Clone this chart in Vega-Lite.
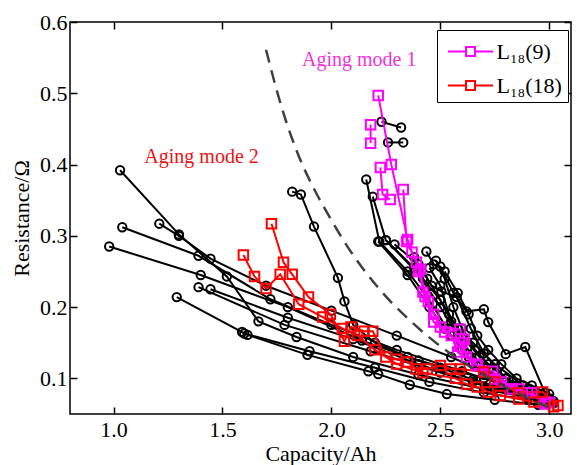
{
"$schema": "https://vega.github.io/schema/vega-lite/v6.json",
"width": 501, "height": 392,
"autosize": {"type": "none"},
"padding": {"left": 70, "top": 22, "right": 6, "bottom": 51},
"background": "white",
"config": {
  "font": "Liberation Serif",
  "view": {"stroke": "black", "strokeWidth": 1.5},
  "axis": {"labelFont": "Liberation Serif", "titleFont": "Liberation Serif", "labelFontSize": 22, "titleFontSize": 22, "titleFontWeight": "normal", "labelColor": "black", "titleColor": "black", "domain": false, "grid": false, "tickColor": "black", "tickSize": -7, "tickWidth": 1.5},
  "legend": {"labelFont": "Liberation Serif", "labelFontSize": 22, "labelColor": "black"}
},
"datasets": {
"dash": [
{"x":1.70,"y":0.561},{"x":1.77,"y":0.482},{"x":1.85,"y":0.412},{"x":1.92,"y":0.366},{"x":2.0,"y":0.322},{"x":2.08,"y":0.282},{"x":2.16,"y":0.248},{"x":2.25,"y":0.215},{"x":2.33,"y":0.19},{"x":2.42,"y":0.165},{"x":2.55,"y":0.134},{"x":2.71,"y":0.103},{"x":2.85,"y":0.08},{"x":3.03,"y":0.055}
],
"notes": [
{"x":2.128,"y":0.547,"t":"Aging mode 1","k":"m"},
{"x":1.404,"y":0.411,"t":"Aging mode 2","k":"r"}
],
"pts": [
{"s":"S1","g":"k","i":0,"x":1.03,"y":0.392},{"s":"S1","g":"k","i":1,"x":1.30,"y":0.302},{"s":"S1","g":"k","i":2,"x":1.52,"y":0.243},{"s":"S1","g":"k","i":3,"x":1.665,"y":0.18},{"s":"S1","g":"k","i":4,"x":1.84,"y":0.158},{"s":"S1","g":"k","i":5,"x":2.1,"y":0.13},{"s":"S1","g":"k","i":6,"x":2.4,"y":0.105},{"s":"S1","g":"k","i":7,"x":2.7,"y":0.085},{"s":"S1","g":"k","i":8,"x":2.9,"y":0.073},{"s":"S1","g":"k","i":9,"x":3.02,"y":0.065},
{"s":"S2","g":"k","i":0,"x":1.04,"y":0.312},{"s":"S2","g":"k","i":1,"x":1.39,"y":0.272},{"s":"S2","g":"k","i":2,"x":1.72,"y":0.211},{"s":"S2","g":"k","i":3,"x":2.0,"y":0.175},{"s":"S2","g":"k","i":4,"x":2.3,"y":0.14},{"s":"S2","g":"k","i":5,"x":2.6,"y":0.11},{"s":"S2","g":"k","i":6,"x":2.8,"y":0.09},{"s":"S2","g":"k","i":7,"x":3.0,"y":0.07},
{"s":"S3","g":"k","i":0,"x":1.21,"y":0.317},{"s":"S3","g":"k","i":1,"x":1.30,"y":0.30},{"s":"S3","g":"k","i":2,"x":1.445,"y":0.268},{"s":"S3","g":"k","i":3,"x":1.7,"y":0.23},{"s":"S3","g":"k","i":4,"x":2.0,"y":0.195},{"s":"S3","g":"k","i":5,"x":2.3,"y":0.16},{"s":"S3","g":"k","i":6,"x":2.55,"y":0.13},{"s":"S3","g":"k","i":7,"x":2.8,"y":0.095},{"s":"S3","g":"k","i":8,"x":3.0,"y":0.072},
{"s":"S4","g":"k","i":0,"x":0.98,"y":0.285},{"s":"S4","g":"k","i":1,"x":1.4,"y":0.245},{"s":"S4","g":"k","i":2,"x":1.8,"y":0.2},{"s":"S4","g":"k","i":3,"x":2.14,"y":0.153},{"s":"S4","g":"k","i":4,"x":2.4,"y":0.125},{"s":"S4","g":"k","i":5,"x":2.7,"y":0.1},{"s":"S4","g":"k","i":6,"x":2.95,"y":0.075},
{"s":"S5","g":"k","i":0,"x":1.39,"y":0.228},{"s":"S5","g":"k","i":1,"x":1.785,"y":0.175},{"s":"S5","g":"k","i":2,"x":2.18,"y":0.138},{"s":"S5","g":"k","i":3,"x":2.5,"y":0.108},{"s":"S5","g":"k","i":4,"x":2.75,"y":0.085},{"s":"S5","g":"k","i":5,"x":2.97,"y":0.07},
{"s":"S6","g":"k","i":0,"x":1.445,"y":0.225},{"s":"S6","g":"k","i":1,"x":1.8,"y":0.185},{"s":"S6","g":"k","i":2,"x":2.1,"y":0.155},{"s":"S6","g":"k","i":3,"x":2.4,"y":0.12},{"s":"S6","g":"k","i":4,"x":2.65,"y":0.095},{"s":"S6","g":"k","i":5,"x":2.9,"y":0.078},{"s":"S6","g":"k","i":6,"x":3.02,"y":0.068},
{"s":"S7","g":"k","i":0,"x":1.29,"y":0.214},{"s":"S7","g":"k","i":1,"x":1.59,"y":0.165},{"s":"S7","g":"k","i":2,"x":1.615,"y":0.161},{"s":"S7","g":"k","i":3,"x":1.89,"y":0.133},{"s":"S7","g":"k","i":4,"x":2.17,"y":0.11},{"s":"S7","g":"k","i":5,"x":2.215,"y":0.106},{"s":"S7","g":"k","i":6,"x":2.36,"y":0.091},{"s":"S7","g":"k","i":7,"x":2.53,"y":0.078},{"s":"S7","g":"k","i":8,"x":2.75,"y":0.07},{"s":"S7","g":"k","i":9,"x":2.95,"y":0.063},
{"s":"S8","g":"k","i":0,"x":1.6,"y":0.163},{"s":"S8","g":"k","i":1,"x":1.9,"y":0.138},{"s":"S8","g":"k","i":2,"x":2.2,"y":0.115},{"s":"S8","g":"k","i":3,"x":2.45,"y":0.095},{"s":"S8","g":"k","i":4,"x":2.7,"y":0.08},{"s":"S8","g":"k","i":5,"x":2.9,"y":0.07},
{"s":"B1","g":"k","i":0,"x":2.23,"y":0.46},{"s":"B1","g":"k","i":1,"x":2.32,"y":0.452},
{"s":"B2","g":"k","i":0,"x":2.26,"y":0.431},{"s":"B2","g":"k","i":1,"x":2.33,"y":0.431},
{"s":"B3","g":"k","i":0,"x":2.16,"y":0.379},{"s":"B3","g":"k","i":1,"x":2.22,"y":0.292},{"s":"B3","g":"k","i":2,"x":2.35,"y":0.25},{"s":"B3","g":"k","i":3,"x":2.45,"y":0.21},{"s":"B3","g":"k","i":4,"x":2.55,"y":0.16},{"s":"B3","g":"k","i":5,"x":2.65,"y":0.12},{"s":"B3","g":"k","i":6,"x":2.78,"y":0.09},{"s":"B3","g":"k","i":7,"x":2.9,"y":0.075},{"s":"B3","g":"k","i":8,"x":3.0,"y":0.065},
{"s":"B4","g":"k","i":0,"x":2.19,"y":0.355},{"s":"B4","g":"k","i":1,"x":2.25,"y":0.294},{"s":"B4","g":"k","i":2,"x":2.38,"y":0.255},{"s":"B4","g":"k","i":3,"x":2.5,"y":0.2},{"s":"B4","g":"k","i":4,"x":2.6,"y":0.15},{"s":"B4","g":"k","i":5,"x":2.7,"y":0.115},{"s":"B4","g":"k","i":6,"x":2.82,"y":0.088},{"s":"B4","g":"k","i":7,"x":2.95,"y":0.072},
{"s":"B5","g":"k","i":0,"x":2.436,"y":0.278},{"s":"B5","g":"k","i":1,"x":2.47,"y":0.26},{"s":"B5","g":"k","i":2,"x":2.5,"y":0.257},{"s":"B5","g":"k","i":3,"x":2.56,"y":0.22},{"s":"B5","g":"k","i":4,"x":2.62,"y":0.194},{"s":"B5","g":"k","i":5,"x":2.70,"y":0.197},{"s":"B5","g":"k","i":6,"x":2.72,"y":0.179},{"s":"B5","g":"k","i":7,"x":2.80,"y":0.134},{"s":"B5","g":"k","i":8,"x":2.89,"y":0.144},{"s":"B5","g":"k","i":9,"x":2.98,"y":0.08},
{"s":"B6","g":"k","i":0,"x":2.29,"y":0.288},{"s":"B6","g":"k","i":1,"x":2.4,"y":0.26},{"s":"B6","g":"k","i":2,"x":2.46,"y":0.23},{"s":"B6","g":"k","i":3,"x":2.505,"y":0.222},{"s":"B6","g":"k","i":4,"x":2.575,"y":0.214},{"s":"B6","g":"k","i":5,"x":2.64,"y":0.17},{"s":"B6","g":"k","i":6,"x":2.7,"y":0.135},{"s":"B6","g":"k","i":7,"x":2.8,"y":0.1},{"s":"B6","g":"k","i":8,"x":2.9,"y":0.085},{"s":"B6","g":"k","i":9,"x":3.0,"y":0.07},
{"s":"B7","g":"k","i":0,"x":2.215,"y":0.292},{"s":"B7","g":"k","i":1,"x":2.35,"y":0.245},{"s":"B7","g":"k","i":2,"x":2.45,"y":0.2},{"s":"B7","g":"k","i":3,"x":2.52,"y":0.17},{"s":"B7","g":"k","i":4,"x":2.6,"y":0.14},{"s":"B7","g":"k","i":5,"x":2.7,"y":0.11},{"s":"B7","g":"k","i":6,"x":2.85,"y":0.085},{"s":"B7","g":"k","i":7,"x":2.97,"y":0.07},
{"s":"B8","g":"k","i":0,"x":2.25,"y":0.294},{"s":"B8","g":"k","i":1,"x":2.42,"y":0.24},{"s":"B8","g":"k","i":2,"x":2.5,"y":0.21},{"s":"B8","g":"k","i":3,"x":2.58,"y":0.17},{"s":"B8","g":"k","i":4,"x":2.65,"y":0.15},{"s":"B8","g":"k","i":5,"x":2.75,"y":0.12},{"s":"B8","g":"k","i":6,"x":2.88,"y":0.09},{"s":"B8","g":"k","i":7,"x":3.0,"y":0.072},
{"s":"B9","g":"k","i":0,"x":2.48,"y":0.265},{"s":"B9","g":"k","i":1,"x":2.52,"y":0.24},{"s":"B9","g":"k","i":2,"x":2.56,"y":0.2},{"s":"B9","g":"k","i":3,"x":2.6,"y":0.17},{"s":"B9","g":"k","i":4,"x":2.66,"y":0.14},{"s":"B9","g":"k","i":5,"x":2.72,"y":0.12},{"s":"B9","g":"k","i":6,"x":2.8,"y":0.1},{"s":"B9","g":"k","i":7,"x":2.9,"y":0.085},{"s":"B9","g":"k","i":8,"x":2.98,"y":0.075},
{"s":"B10","g":"k","i":0,"x":2.45,"y":0.255},{"s":"B10","g":"k","i":1,"x":2.5,"y":0.23},{"s":"B10","g":"k","i":2,"x":2.54,"y":0.19},{"s":"B10","g":"k","i":3,"x":2.58,"y":0.16},{"s":"B10","g":"k","i":4,"x":2.63,"y":0.13},{"s":"B10","g":"k","i":5,"x":2.7,"y":0.105},{"s":"B10","g":"k","i":6,"x":2.78,"y":0.09},{"s":"B10","g":"k","i":7,"x":2.92,"y":0.08},
{"s":"B11","g":"k","i":0,"x":1.82,"y":0.362},{"s":"B11","g":"k","i":1,"x":1.86,"y":0.358},{"s":"B11","g":"k","i":2,"x":1.92,"y":0.313},{"s":"B11","g":"k","i":3,"x":2.03,"y":0.241},{"s":"B11","g":"k","i":4,"x":2.06,"y":0.208},{"s":"B11","g":"k","i":5,"x":2.1,"y":0.175},{"s":"B11","g":"k","i":6,"x":2.2,"y":0.15},{"s":"B11","g":"k","i":7,"x":2.35,"y":0.13},{"s":"B11","g":"k","i":8,"x":2.5,"y":0.115},{"s":"B11","g":"k","i":9,"x":2.65,"y":0.098},{"s":"B11","g":"k","i":10,"x":2.8,"y":0.085},{"s":"B11","g":"k","i":11,"x":2.95,"y":0.07},
{"s":"B13","g":"k","i":0,"x":2.38,"y":0.27},{"s":"B13","g":"k","i":1,"x":2.44,"y":0.24},{"s":"B13","g":"k","i":2,"x":2.5,"y":0.21},{"s":"B13","g":"k","i":3,"x":2.55,"y":0.18},{"s":"B13","g":"k","i":4,"x":2.6,"y":0.16},{"s":"B13","g":"k","i":5,"x":2.68,"y":0.13},{"s":"B13","g":"k","i":6,"x":2.76,"y":0.11},{"s":"B13","g":"k","i":7,"x":2.85,"y":0.09},{"s":"B13","g":"k","i":8,"x":2.95,"y":0.078},
{"s":"B14","g":"k","i":0,"x":2.52,"y":0.25},{"s":"B14","g":"k","i":1,"x":2.58,"y":0.22},{"s":"B14","g":"k","i":2,"x":2.63,"y":0.19},{"s":"B14","g":"k","i":3,"x":2.67,"y":0.16},{"s":"B14","g":"k","i":4,"x":2.72,"y":0.14},{"s":"B14","g":"k","i":5,"x":2.78,"y":0.12},{"s":"B14","g":"k","i":6,"x":2.85,"y":0.1},{"s":"B14","g":"k","i":7,"x":2.92,"y":0.09},{"s":"B14","g":"k","i":8,"x":3.0,"y":0.078},
{"s":"M1","g":"L₁₈(9)","i":0,"x":2.215,"y":0.497},{"s":"M1","g":"L₁₈(9)","i":1,"x":2.275,"y":0.40},{"s":"M1","g":"L₁₈(9)","i":2,"x":2.35,"y":0.295},{"s":"M1","g":"L₁₈(9)","i":3,"x":2.37,"y":0.277},{"s":"M1","g":"L₁₈(9)","i":4,"x":2.41,"y":0.253},{"s":"M1","g":"L₁₈(9)","i":5,"x":2.42,"y":0.221},{"s":"M1","g":"L₁₈(9)","i":6,"x":2.47,"y":0.179},{"s":"M1","g":"L₁₈(9)","i":7,"x":2.55,"y":0.16},{"s":"M1","g":"L₁₈(9)","i":8,"x":2.58,"y":0.137},{"s":"M1","g":"L₁₈(9)","i":9,"x":2.665,"y":0.12},{"s":"M1","g":"L₁₈(9)","i":10,"x":2.75,"y":0.099},{"s":"M1","g":"L₁₈(9)","i":11,"x":2.86,"y":0.085},{"s":"M1","g":"L₁₈(9)","i":12,"x":2.98,"y":0.067},
{"s":"M2","g":"L₁₈(9)","i":0,"x":2.18,"y":0.456},{"s":"M2","g":"L₁₈(9)","i":1,"x":2.18,"y":0.43},
{"s":"M3","g":"L₁₈(9)","i":0,"x":2.225,"y":0.396},{"s":"M3","g":"L₁₈(9)","i":1,"x":2.235,"y":0.358},{"s":"M3","g":"L₁₈(9)","i":2,"x":2.27,"y":0.351},
{"s":"M4","g":"L₁₈(9)","i":0,"x":2.33,"y":0.365},{"s":"M4","g":"L₁₈(9)","i":1,"x":2.345,"y":0.292},{"s":"M4","g":"L₁₈(9)","i":2,"x":2.39,"y":0.263},{"s":"M4","g":"L₁₈(9)","i":3,"x":2.445,"y":0.208},{"s":"M4","g":"L₁₈(9)","i":4,"x":2.5,"y":0.172},{"s":"M4","g":"L₁₈(9)","i":5,"x":2.59,"y":0.169},{"s":"M4","g":"L₁₈(9)","i":6,"x":2.61,"y":0.155},{"s":"M4","g":"L₁₈(9)","i":7,"x":2.59,"y":0.145},{"s":"M4","g":"L₁₈(9)","i":8,"x":2.67,"y":0.118},{"s":"M4","g":"L₁₈(9)","i":9,"x":2.74,"y":0.11},{"s":"M4","g":"L₁₈(9)","i":10,"x":2.83,"y":0.085},{"s":"M4","g":"L₁₈(9)","i":11,"x":2.92,"y":0.08},{"s":"M4","g":"L₁₈(9)","i":12,"x":2.98,"y":0.064},
{"s":"M5","g":"L₁₈(9)","i":0,"x":2.4,"y":0.25},{"s":"M5","g":"L₁₈(9)","i":1,"x":2.43,"y":0.215},{"s":"M5","g":"L₁₈(9)","i":2,"x":2.47,"y":0.19},{"s":"M5","g":"L₁₈(9)","i":3,"x":2.52,"y":0.165},{"s":"M5","g":"L₁₈(9)","i":4,"x":2.6,"y":0.15},{"s":"M5","g":"L₁₈(9)","i":5,"x":2.62,"y":0.13},{"s":"M5","g":"L₁₈(9)","i":6,"x":2.7,"y":0.11},{"s":"M5","g":"L₁₈(9)","i":7,"x":2.78,"y":0.095},{"s":"M5","g":"L₁₈(9)","i":8,"x":2.9,"y":0.08},{"s":"M5","g":"L₁₈(9)","i":9,"x":3.0,"y":0.066},
{"s":"R1","g":"L₁₈(18)","i":0,"x":1.725,"y":0.317},{"s":"R1","g":"L₁₈(18)","i":1,"x":1.78,"y":0.263},{"s":"R1","g":"L₁₈(18)","i":2,"x":1.82,"y":0.246},{"s":"R1","g":"L₁₈(18)","i":3,"x":1.895,"y":0.214},{"s":"R1","g":"L₁₈(18)","i":4,"x":1.995,"y":0.19},{"s":"R1","g":"L₁₈(18)","i":5,"x":2.06,"y":0.152},{"s":"R1","g":"L₁₈(18)","i":6,"x":2.09,"y":0.172},{"s":"R1","g":"L₁₈(18)","i":7,"x":2.15,"y":0.166},{"s":"R1","g":"L₁₈(18)","i":8,"x":2.19,"y":0.166},{"s":"R1","g":"L₁₈(18)","i":9,"x":2.25,"y":0.13},{"s":"R1","g":"L₁₈(18)","i":10,"x":2.30,"y":0.127},{"s":"R1","g":"L₁₈(18)","i":11,"x":2.35,"y":0.123},{"s":"R1","g":"L₁₈(18)","i":12,"x":2.39,"y":0.113},{"s":"R1","g":"L₁₈(18)","i":13,"x":2.44,"y":0.113},{"s":"R1","g":"L₁₈(18)","i":14,"x":2.5,"y":0.118},{"s":"R1","g":"L₁₈(18)","i":15,"x":2.55,"y":0.113},{"s":"R1","g":"L₁₈(18)","i":16,"x":2.59,"y":0.113},{"s":"R1","g":"L₁₈(18)","i":17,"x":2.70,"y":0.109},{"s":"R1","g":"L₁₈(18)","i":18,"x":2.75,"y":0.095},{"s":"R1","g":"L₁₈(18)","i":19,"x":2.86,"y":0.08},{"s":"R1","g":"L₁₈(18)","i":20,"x":2.97,"y":0.081},{"s":"R1","g":"L₁₈(18)","i":21,"x":3.04,"y":0.062},
{"s":"R2","g":"L₁₈(18)","i":0,"x":1.596,"y":0.273},{"s":"R2","g":"L₁₈(18)","i":1,"x":1.647,"y":0.243},{"s":"R2","g":"L₁₈(18)","i":2,"x":1.70,"y":0.226},{"s":"R2","g":"L₁₈(18)","i":3,"x":1.765,"y":0.246},{"s":"R2","g":"L₁₈(18)","i":4,"x":1.85,"y":0.204},{"s":"R2","g":"L₁₈(18)","i":5,"x":1.96,"y":0.186},{"s":"R2","g":"L₁₈(18)","i":6,"x":2.05,"y":0.17},{"s":"R2","g":"L₁₈(18)","i":7,"x":2.12,"y":0.16},{"s":"R2","g":"L₁₈(18)","i":8,"x":2.2,"y":0.14},{"s":"R2","g":"L₁₈(18)","i":9,"x":2.3,"y":0.12},{"s":"R2","g":"L₁₈(18)","i":10,"x":2.42,"y":0.108},{"s":"R2","g":"L₁₈(18)","i":11,"x":2.57,"y":0.1},{"s":"R2","g":"L₁₈(18)","i":12,"x":2.62,"y":0.092},{"s":"R2","g":"L₁₈(18)","i":13,"x":2.67,"y":0.088},{"s":"R2","g":"L₁₈(18)","i":14,"x":2.72,"y":0.081},{"s":"R2","g":"L₁₈(18)","i":15,"x":2.775,"y":0.076},{"s":"R2","g":"L₁₈(18)","i":16,"x":2.86,"y":0.071},{"s":"R2","g":"L₁₈(18)","i":17,"x":2.93,"y":0.067},{"s":"R2","g":"L₁₈(18)","i":18,"x":3.02,"y":0.06}
]
},
"layer": [
{
  "data": {"name": "pts"},
  "transform": [{"filter": "datum.g === 'k'"}],
  "mark": {"type": "line", "color": "black", "strokeWidth": 2},
  "encoding": {
    "x": {"field": "x", "type": "quantitative", "scale": {"domain": [0.8, 3.1], "nice": false, "zero": false}, "axis": {"values": [1, 1.5, 2, 2.5, 3], "format": ".1f", "title": "Capacity/Ah", "labelPadding": 12, "titlePadding": 3}},
    "y": {"field": "y", "type": "quantitative", "scale": {"domain": [0.05, 0.6], "nice": false, "zero": false}, "axis": {"values": [0.1, 0.2, 0.3, 0.4, 0.5, 0.6], "format": ".1f", "title": "Resistance/Ω", "labelPadding": 10, "titlePadding": 6}},
    "detail": {"field": "s"},
    "order": {"field": "i"}
  }
},
{
  "data": {"name": "pts"},
  "transform": [{"filter": "datum.g === 'k'"}],
  "mark": {"type": "point", "shape": "circle", "filled": false, "color": "black", "size": 70, "strokeWidth": 2, "opacity": 1},
  "encoding": {
    "x": {"field": "x", "type": "quantitative", "scale": {"domain": [0.8, 3.1], "nice": false, "zero": false}, "axis": null},
    "y": {"field": "y", "type": "quantitative", "scale": {"domain": [0.05, 0.6], "nice": false, "zero": false}, "axis": null}
  }
},
{
  "data": {"name": "pts"},
  "transform": [{"filter": "datum.g !== 'k'"}],
  "mark": {"type": "line", "strokeWidth": 2},
  "encoding": {
    "x": {"field": "x", "type": "quantitative", "scale": {"domain": [0.8, 3.1], "nice": false, "zero": false}, "axis": null},
    "y": {"field": "y", "type": "quantitative", "scale": {"domain": [0.05, 0.6], "nice": false, "zero": false}, "axis": null},
    "color": {"field": "g", "type": "nominal", "scale": {"domain": ["L₁₈(9)", "L₁₈(18)"], "range": ["#ff00ff", "#ff0000"]}, "legend": {"title": null, "orient": "none", "legendX": 367, "legendY": 8, "strokeColor": "black", "fillColor": "white", "padding": 5.5, "symbolType": "M-1.5,0L-0.3,0M0.3,0L1.5,0M-0.3,-0.3L0.3,-0.3L0.3,0.3L-0.3,0.3Z", "symbolSize": 900, "symbolStrokeWidth": 2, "symbolFillColor": "transparent", "symbolOffset": 12, "rowPadding": 7, "labelOffset": 10}},
    "detail": {"field": "s"},
    "order": {"field": "i"}
  }
},
{
  "data": {"name": "pts"},
  "transform": [{"filter": "datum.g !== 'k'"}],
  "mark": {"type": "point", "shape": "square", "filled": false, "size": 90, "strokeWidth": 2, "opacity": 1},
  "encoding": {
    "x": {"field": "x", "type": "quantitative", "scale": {"domain": [0.8, 3.1], "nice": false, "zero": false}, "axis": null},
    "y": {"field": "y", "type": "quantitative", "scale": {"domain": [0.05, 0.6], "nice": false, "zero": false}, "axis": null},
    "color": {"field": "g", "type": "nominal", "scale": {"domain": ["L₁₈(9)", "L₁₈(18)"], "range": ["#ff00ff", "#ff0000"]}, "legend": {"title": null, "orient": "none", "legendX": 367, "legendY": 8, "strokeColor": "black", "fillColor": "white", "padding": 5.5, "symbolType": "M-1.5,0L-0.3,0M0.3,0L1.5,0M-0.3,-0.3L0.3,-0.3L0.3,0.3L-0.3,0.3Z", "symbolSize": 900, "symbolStrokeWidth": 2, "symbolFillColor": "transparent", "symbolOffset": 12, "rowPadding": 7, "labelOffset": 10}}
  }
},
{
  "data": {"name": "dash"},
  "mark": {"type": "line", "color": "#404040", "strokeWidth": 2.5, "strokeDash": [13, 8], "interpolate": "monotone"},
  "encoding": {
    "x": {"field": "x", "type": "quantitative", "scale": {"domain": [0.8, 3.1], "nice": false, "zero": false}, "axis": {"orient": "top", "values": [1, 1.5, 2, 2.5, 3], "labels": false, "title": null}},
    "y": {"field": "y", "type": "quantitative", "scale": {"domain": [0.05, 0.6], "nice": false, "zero": false}, "axis": {"orient": "right", "values": [0.1, 0.2, 0.3, 0.4, 0.5, 0.6], "labels": false, "title": null}}
  }
},
{
  "data": {"name": "notes"},
  "transform": [{"filter": "datum.k === 'm'"}],
  "mark": {"type": "text", "color": "#ee33dd", "font": "Liberation Serif", "fontSize": 20, "align": "center", "baseline": "middle"},
  "encoding": {
    "x": {"field": "x", "type": "quantitative", "scale": {"domain": [0.8, 3.1], "nice": false, "zero": false}, "axis": null},
    "y": {"field": "y", "type": "quantitative", "scale": {"domain": [0.05, 0.6], "nice": false, "zero": false}, "axis": null},
    "text": {"field": "t"}
  }
},
{
  "data": {"name": "notes"},
  "transform": [{"filter": "datum.k === 'r'"}],
  "mark": {"type": "text", "color": "#ee1111", "font": "Liberation Serif", "fontSize": 20, "align": "center", "baseline": "middle"},
  "encoding": {
    "x": {"field": "x", "type": "quantitative", "scale": {"domain": [0.8, 3.1], "nice": false, "zero": false}, "axis": null},
    "y": {"field": "y", "type": "quantitative", "scale": {"domain": [0.05, 0.6], "nice": false, "zero": false}, "axis": null},
    "text": {"field": "t"}
  }
}
],
"resolve": {"axis": {"x": "independent", "y": "independent"}}
}
